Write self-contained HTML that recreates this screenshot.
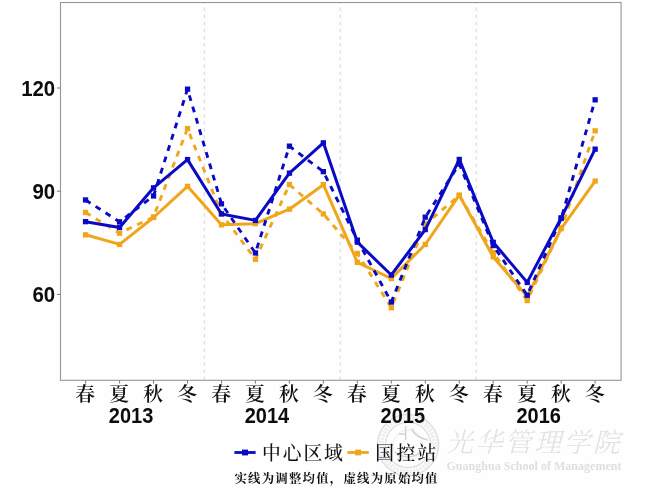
<!DOCTYPE html>
<html lang="zh">
<head>
<meta charset="utf-8">
<title>chart</title>
<style>
html,body{margin:0;padding:0;background:#fff;}
body{width:650px;height:496px;overflow:hidden;position:relative;}
svg{display:block;position:absolute;left:0;top:0;}
.num{font-family:"Liberation Sans",sans-serif;font-weight:700;font-size:20px;fill:#0c0c0c;}
.cjk{font-family:"Liberation Serif","Noto Serif CJK SC",serif;fill:#111;}
</style>
</head>
<body>
<svg width="650" height="496" viewBox="0 0 650 496">
<rect width="650" height="496" fill="#fefefe"/>
<!-- watermark -->
<g fill="none" stroke="#dedede">
<circle cx="408" cy="445" r="30.5" stroke-width="1.4"/>
<circle cx="408" cy="445" r="26.6" stroke="#eeeeee" stroke-width="5" stroke-dasharray="2.2 1.2"/>
<circle cx="408" cy="445" r="22.6" stroke-width="1.2"/>
<circle cx="408" cy="445" r="15" stroke="#ececec" stroke-width="1"/>
<path d="M405.6 426 V440 M399 434 H406 M412 428.5 Q414 437 428 440 M395 452 Q408 462 421 452" stroke="#d4d4d4" stroke-width="1.5"/>
</g>
<g transform="translate(446 452) skewX(-14)"><text x="0" y="0" font-family="'Liberation Serif','Noto Serif CJK SC',serif" font-size="27" font-weight="300" fill="#e1e1e1" textLength="174" lengthAdjust="spacing">光华管理学院</text></g>
<text x="446.5" y="469.6" font-family="'Liberation Serif',serif" font-size="12.6" font-weight="700" fill="#dfdfdf" textLength="175" lengthAdjust="spacingAndGlyphs">Guanghua School of Management</text>
<!-- panel -->
<g stroke="#d4d4d4" stroke-width="1" stroke-dasharray="3.5 3.6"><line x1="204.3" y1="380.2" x2="204.3" y2="3"/><line x1="340.2" y1="380.2" x2="340.2" y2="3"/><line x1="476.2" y1="380.2" x2="476.2" y2="3"/></g>
<g><polyline points="85.6,234.8 119.6,244.4 153.5,217.5 187.5,186.3 221.5,224.8 255.4,223.7 289.4,209.2 323.4,184.7 357.4,262.3 391.3,278.5 425.3,244.5 459.3,195.2 493.2,256.9 527.2,296.5 561.2,228.6 595.1,181.1" fill="none" stroke="#f0a61b" stroke-width="3.0" stroke-linejoin="round"/><rect x="82.9" y="232.2" width="5.3" height="5.3" fill="#f0a61b"/><rect x="116.9" y="241.8" width="5.3" height="5.3" fill="#f0a61b"/><rect x="150.9" y="214.8" width="5.3" height="5.3" fill="#f0a61b"/><rect x="184.9" y="183.7" width="5.3" height="5.3" fill="#f0a61b"/><rect x="218.8" y="222.2" width="5.3" height="5.3" fill="#f0a61b"/><rect x="252.8" y="221.0" width="5.3" height="5.3" fill="#f0a61b"/><rect x="286.8" y="206.5" width="5.3" height="5.3" fill="#f0a61b"/><rect x="320.7" y="182.0" width="5.3" height="5.3" fill="#f0a61b"/><rect x="354.7" y="259.7" width="5.3" height="5.3" fill="#f0a61b"/><rect x="388.7" y="275.9" width="5.3" height="5.3" fill="#f0a61b"/><rect x="422.6" y="241.8" width="5.3" height="5.3" fill="#f0a61b"/><rect x="456.6" y="192.5" width="5.3" height="5.3" fill="#f0a61b"/><rect x="490.6" y="254.2" width="5.3" height="5.3" fill="#f0a61b"/><rect x="524.6" y="293.9" width="5.3" height="5.3" fill="#f0a61b"/><rect x="558.5" y="225.9" width="5.3" height="5.3" fill="#f0a61b"/><rect x="592.5" y="178.4" width="5.3" height="5.3" fill="#f0a61b"/><polyline points="85.6,212.5 119.6,233.2 153.5,217.0 187.5,128.6 221.5,213.8 255.4,259.3 289.4,184.6 323.4,214.0 357.4,253.4 391.3,307.7 425.3,224.3 459.3,195.4 493.2,252.7 527.2,300.5 561.2,228.2 595.1,130.9" fill="none" stroke="#f0a61b" stroke-width="2.9" stroke-linejoin="round" stroke-dasharray="5.85 6"/><rect x="82.9" y="209.8" width="5.3" height="5.3" fill="#f0a61b"/><rect x="116.9" y="230.5" width="5.3" height="5.3" fill="#f0a61b"/><rect x="150.9" y="214.3" width="5.3" height="5.3" fill="#f0a61b"/><rect x="184.9" y="125.9" width="5.3" height="5.3" fill="#f0a61b"/><rect x="218.8" y="211.2" width="5.3" height="5.3" fill="#f0a61b"/><rect x="252.8" y="256.7" width="5.3" height="5.3" fill="#f0a61b"/><rect x="286.8" y="181.9" width="5.3" height="5.3" fill="#f0a61b"/><rect x="320.7" y="211.3" width="5.3" height="5.3" fill="#f0a61b"/><rect x="354.7" y="250.8" width="5.3" height="5.3" fill="#f0a61b"/><rect x="388.7" y="305.1" width="5.3" height="5.3" fill="#f0a61b"/><rect x="422.6" y="221.7" width="5.3" height="5.3" fill="#f0a61b"/><rect x="456.6" y="192.8" width="5.3" height="5.3" fill="#f0a61b"/><rect x="490.6" y="250.0" width="5.3" height="5.3" fill="#f0a61b"/><rect x="524.6" y="297.9" width="5.3" height="5.3" fill="#f0a61b"/><rect x="558.5" y="225.5" width="5.3" height="5.3" fill="#f0a61b"/><rect x="592.5" y="128.2" width="5.3" height="5.3" fill="#f0a61b"/><polyline points="85.6,221.7 119.6,227.5 153.5,187.8 187.5,159.6 221.5,214.0 255.4,220.4 289.4,173.2 323.4,142.8 357.4,242.2 391.3,275.0 425.3,229.6 459.3,159.4 493.2,242.3 527.2,282.4 561.2,217.9 595.1,149.2" fill="none" stroke="#0a0ac6" stroke-width="3.0" stroke-linejoin="round"/><rect x="82.9" y="219.0" width="5.3" height="5.3" fill="#0a0ac6"/><rect x="116.9" y="224.8" width="5.3" height="5.3" fill="#0a0ac6"/><rect x="150.9" y="185.2" width="5.3" height="5.3" fill="#0a0ac6"/><rect x="184.9" y="156.9" width="5.3" height="5.3" fill="#0a0ac6"/><rect x="218.8" y="211.3" width="5.3" height="5.3" fill="#0a0ac6"/><rect x="252.8" y="217.8" width="5.3" height="5.3" fill="#0a0ac6"/><rect x="286.8" y="170.5" width="5.3" height="5.3" fill="#0a0ac6"/><rect x="320.7" y="140.2" width="5.3" height="5.3" fill="#0a0ac6"/><rect x="354.7" y="239.5" width="5.3" height="5.3" fill="#0a0ac6"/><rect x="388.7" y="272.4" width="5.3" height="5.3" fill="#0a0ac6"/><rect x="422.6" y="226.9" width="5.3" height="5.3" fill="#0a0ac6"/><rect x="456.6" y="156.8" width="5.3" height="5.3" fill="#0a0ac6"/><rect x="490.6" y="239.7" width="5.3" height="5.3" fill="#0a0ac6"/><rect x="524.6" y="279.8" width="5.3" height="5.3" fill="#0a0ac6"/><rect x="558.5" y="215.2" width="5.3" height="5.3" fill="#0a0ac6"/><rect x="592.5" y="146.5" width="5.3" height="5.3" fill="#0a0ac6"/><polyline points="85.6,200.0 119.6,221.8 153.5,196.0 187.5,89.2 221.5,203.8 255.4,253.0 289.4,146.2 323.4,171.7 357.4,240.2 391.3,302.0 425.3,217.2 459.3,164.0 493.2,245.6 527.2,295.2 561.2,218.5 595.1,99.9" fill="none" stroke="#0a0ac6" stroke-width="2.9" stroke-linejoin="round" stroke-dasharray="5.85 6"/><rect x="82.9" y="197.3" width="5.3" height="5.3" fill="#0a0ac6"/><rect x="116.9" y="219.2" width="5.3" height="5.3" fill="#0a0ac6"/><rect x="150.9" y="193.3" width="5.3" height="5.3" fill="#0a0ac6"/><rect x="184.9" y="86.5" width="5.3" height="5.3" fill="#0a0ac6"/><rect x="218.8" y="201.2" width="5.3" height="5.3" fill="#0a0ac6"/><rect x="252.8" y="250.3" width="5.3" height="5.3" fill="#0a0ac6"/><rect x="286.8" y="143.5" width="5.3" height="5.3" fill="#0a0ac6"/><rect x="320.7" y="169.0" width="5.3" height="5.3" fill="#0a0ac6"/><rect x="354.7" y="237.5" width="5.3" height="5.3" fill="#0a0ac6"/><rect x="388.7" y="299.4" width="5.3" height="5.3" fill="#0a0ac6"/><rect x="422.6" y="214.5" width="5.3" height="5.3" fill="#0a0ac6"/><rect x="456.6" y="161.3" width="5.3" height="5.3" fill="#0a0ac6"/><rect x="490.6" y="242.9" width="5.3" height="5.3" fill="#0a0ac6"/><rect x="524.6" y="292.6" width="5.3" height="5.3" fill="#0a0ac6"/><rect x="558.5" y="215.8" width="5.3" height="5.3" fill="#0a0ac6"/><rect x="592.5" y="97.2" width="5.3" height="5.3" fill="#0a0ac6"/></g>
<rect x="60.5" y="2.5" width="560.6" height="377.8" fill="none" stroke="#969696" stroke-width="1.1"/>
<g stroke="#777" stroke-width="1"><line x1="57" y1="88" x2="60.5" y2="88"/><line x1="57" y1="191.2" x2="60.5" y2="191.2"/><line x1="57" y1="294.4" x2="60.5" y2="294.4"/><line x1="85.6" y1="380.5" x2="85.6" y2="383.5"/><line x1="119.6" y1="380.5" x2="119.6" y2="383.5"/><line x1="153.5" y1="380.5" x2="153.5" y2="383.5"/><line x1="187.5" y1="380.5" x2="187.5" y2="383.5"/><line x1="221.5" y1="380.5" x2="221.5" y2="383.5"/><line x1="255.4" y1="380.5" x2="255.4" y2="383.5"/><line x1="289.4" y1="380.5" x2="289.4" y2="383.5"/><line x1="323.4" y1="380.5" x2="323.4" y2="383.5"/><line x1="357.4" y1="380.5" x2="357.4" y2="383.5"/><line x1="391.3" y1="380.5" x2="391.3" y2="383.5"/><line x1="425.3" y1="380.5" x2="425.3" y2="383.5"/><line x1="459.3" y1="380.5" x2="459.3" y2="383.5"/><line x1="493.2" y1="380.5" x2="493.2" y2="383.5"/><line x1="527.2" y1="380.5" x2="527.2" y2="383.5"/><line x1="561.2" y1="380.5" x2="561.2" y2="383.5"/><line x1="595.1" y1="380.5" x2="595.1" y2="383.5"/></g>
<g class="num" text-anchor="end"><text transform="translate(55.2 96.0) scale(1.02 1.075)">120</text><text transform="translate(55.2 199.2) scale(1.02 1.075)">90</text><text transform="translate(55.2 302.4) scale(1.02 1.075)">60</text></g>
<g class="cjk" font-size="19.8" font-weight="600" text-anchor="middle"><text x="85.2" y="400.6">春</text><text x="119.2" y="400.6">夏</text><text x="153.1" y="400.6">秋</text><text x="187.1" y="400.6">冬</text><text x="221.1" y="400.6">春</text><text x="255.0" y="400.6">夏</text><text x="289.0" y="400.6">秋</text><text x="323.0" y="400.6">冬</text><text x="357.0" y="400.6">春</text><text x="390.9" y="400.6">夏</text><text x="424.9" y="400.6">秋</text><text x="458.9" y="400.6">冬</text><text x="492.8" y="400.6">春</text><text x="526.8" y="400.6">夏</text><text x="560.8" y="400.6">秋</text><text x="594.8" y="400.6">冬</text></g>
<g class="num" text-anchor="middle"><text transform="translate(131.1 423.2) scale(1 1.07)">2013</text><text transform="translate(266.9 423.2) scale(1 1.07)">2014</text><text transform="translate(402.8 423.2) scale(1 1.07)">2015</text><text transform="translate(538.7 423.2) scale(1 1.07)">2016</text></g>
<!-- legend -->
<line x1="234.4" y1="452.5" x2="255.6" y2="452.5" stroke="#0a0ac6" stroke-width="2.8"/>
<rect x="242" y="449.6" width="6" height="5.8" fill="#0a0ac6"/>
<text class="cjk" x="262" y="459.8" font-size="18.8" font-weight="500" textLength="80.9" lengthAdjust="spacing">中心区域</text>
<line x1="347.4" y1="452.5" x2="368.8" y2="452.5" stroke="#f0a61b" stroke-width="2.8"/>
<rect x="355.1" y="449.6" width="6" height="5.8" fill="#f0a61b"/>
<text class="cjk" x="375.2" y="459.8" font-size="18.8" font-weight="500" textLength="61.2" lengthAdjust="spacing">国控站</text>
<text class="cjk" x="234.5" y="483.2" font-size="12.4" font-weight="700" textLength="203" lengthAdjust="spacing">实线为调整均值，虚线为原始均值</text>
</svg>
</body>
</html>
